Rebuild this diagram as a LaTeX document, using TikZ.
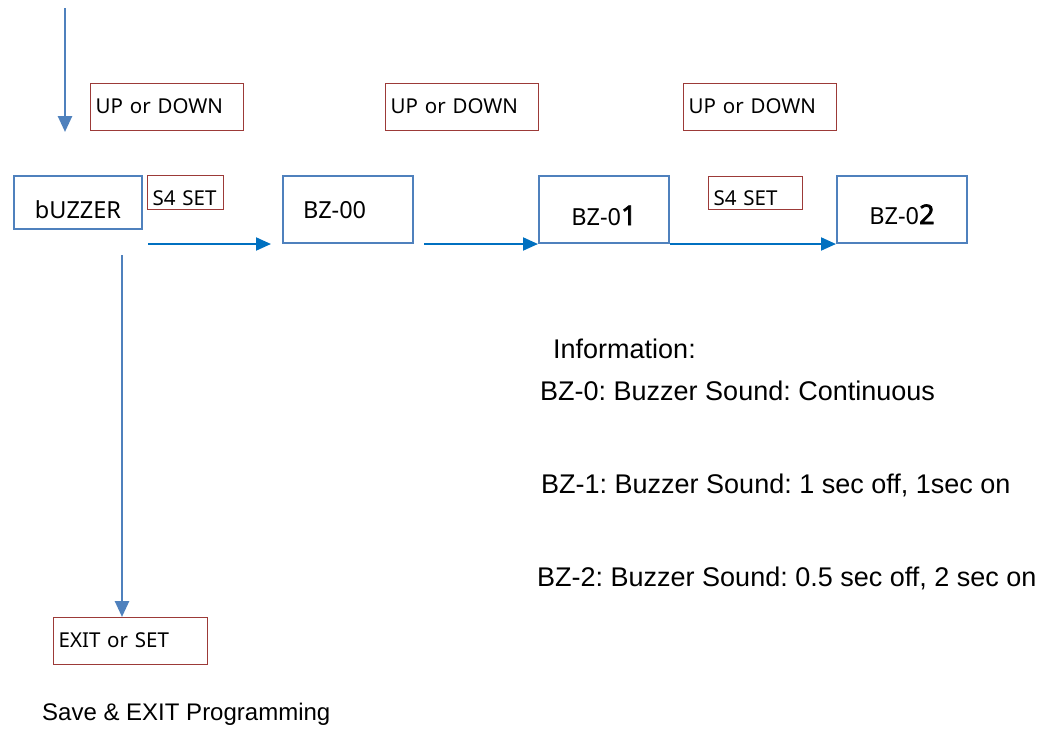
\documentclass[tikz,border=0pt]{standalone}
\usepackage{fontspec}
\setmainfont{Noto Sans}
\newfontfamily\infofont{Liberation Sans}
\newfontfamily\digitfont[FakeBold=2.5]{Noto Sans}
\usetikzlibrary{arrows.meta}
\definecolor{boxblue}{RGB}{79,129,189}
\definecolor{flowblue}{RGB}{0,112,192}
\definecolor{keyred}{RGB}{156,58,56}
\frenchspacing

\begin{document}
\begin{tikzpicture}[x=1pt, y=-1pt,
        statebox/.style={draw=boxblue, line width=2pt, anchor=north west, inner ysep=0pt,
            minimum width=130pt, minimum height=67pt, text depth=0pt, font=\fontsize{23.5}{28}\selectfont},
        keybox/.style={draw=keyred, line width=1.3pt, anchor=north west, inner xsep=5pt, inner ysep=0pt,
            align=left, minimum height=47pt, text depth=0pt, font=\fontsize{20.5}{24}\selectfont},
        flow/.style={draw=flowblue, line width=2pt, -{Triangle[width=13pt,length=15pt]}},
        dropflow/.style={draw=boxblue, line width=2.6pt, -{Triangle[width=14pt,length=16pt]}},
        info/.style={anchor=base west, inner sep=0pt, font=\infofont\fontsize{27}{32}\selectfont}]
        \useasboundingbox (0,0) rectangle (1050,729);

        \node[statebox, minimum width=128pt, minimum height=53pt, text height=31pt] (buz) at (13,175) {bUZZER};
        \node[keybox, text width=66pt, minimum height=34pt, text height=26pt] (set1) at (147,175) {S4 SET};
        \node[keybox, text width=143pt, text height=13pt] (ud1) at (90,83) {UP or DOWN};

        \node[statebox, align=left, text width=90pt, inner xsep=20pt, text height=18pt] (bz0) at (282,175) {BZ-00};
        \node[keybox, text width=143pt, text height=13pt] (ud2) at (385,83) {UP or DOWN};

        \node[statebox, text height=31pt] (bz1) at (538,175) {BZ-0{\digitfont\fontsize{27}{30}\selectfont 1}};
        \node[keybox, text width=143pt, text height=13pt] (ud3) at (683,83) {UP or DOWN};
        \node[keybox, text width=84pt, minimum height=33pt, text height=25pt] (set2) at (708,176) {S4 SET};

        \node[statebox, text height=29pt] (bz2) at (836,175) {BZ-0{\digitfont\fontsize{27}{30}\selectfont 2}};

        \node[keybox, text width=144pt, text height=13pt] (exit) at (53,617) {EXIT or SET};

        \coordinate (in) at (65,8);
        \coordinate (inend) at (65,132);
        \coordinate (down) at (122,255);

        \draw[dropflow] (in) -- (inend);
        \draw[flow, shorten <=5pt, shorten >=11pt] (buz.east |- bz0.south) -- (bz0.south west);
        \draw[flow, shorten <=10pt] (bz0.south east) -- (bz1.south west);
        \draw[flow] (bz1.south east) -- (bz2.south west);
        \draw[dropflow] (down) -- (down |- exit.north);

        \node[info] (infohead) at (553,358) {Information:};
        \node[info] (info0) at (540,400) {BZ-0: Buzzer Sound: Continuous};
        \node[info] (info1) at (541,493) {BZ-1: Buzzer Sound: 1 sec off, 1sec on};
        \node[info] (info2) at (537,586) {BZ-2: Buzzer Sound: 0.5 sec off, 2 sec on};
        \node[info, font=\infofont\fontsize{24}{28}\selectfont] (save) at (42,720) {Save \& EXIT Programming};
    \end{tikzpicture}
\end{document}
